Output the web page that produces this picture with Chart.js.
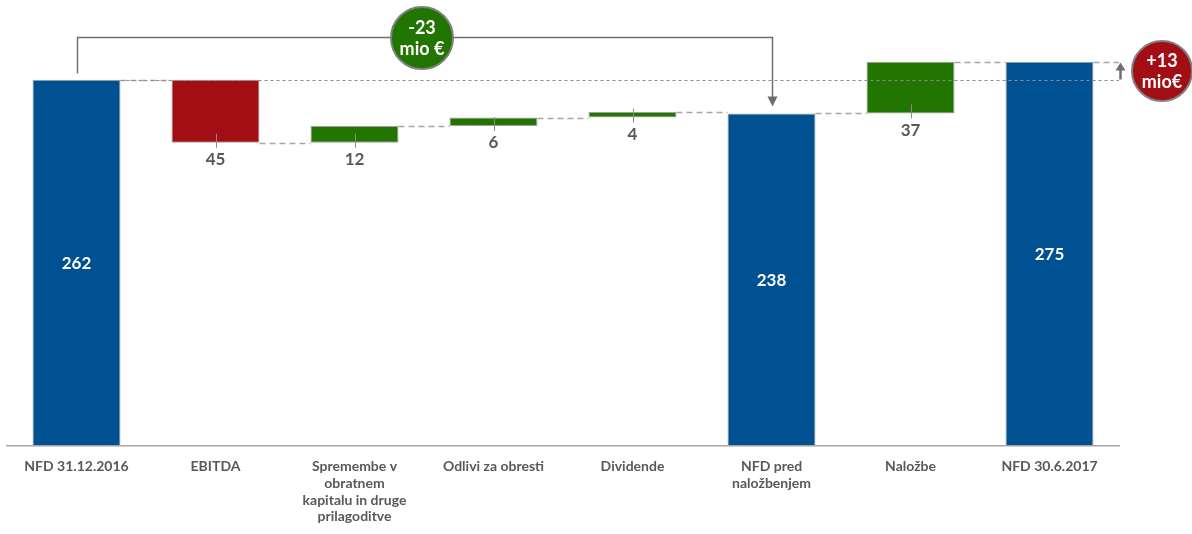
<!DOCTYPE html>
<html>
<head>
<meta charset="utf-8">
<script src="https://cdn.jsdelivr.net/npm/chart.js"></script>
<style>
  html, body { margin: 0; padding: 0; background: #fff; }
  #wrap { width: 1192px; height: 534px; position: relative; }
</style>
</head>
<body>
<div id="wrap"><canvas id="wf"></canvas></div>
<script>
// Data
const categories = [
  ['NFD 31.12.2016'],
  ['EBITDA'],
  ['Spremembe v', 'obratnem', 'kapitalu in druge', 'prilagoditve'],
  ['Odlivi za obresti'],
  ['Dividende'],
  ['NFD pred', 'naložbenjem'],
  ['Naložbe'],
  ['NFD 30.6.2017']
];
const values = [262, 45, 12, 6, 4, 238, 37, 275];
const kinds = ['total', 'down', 'up', 'up', 'up', 'total', 'up', 'total'];
const leftBadge = ['-23', 'mio €'];
const rightBadge = ['+13', 'mio€'];

const BLUE = '#005192', RED = '#a30e15', GREEN = '#217500';
const GREY = '#595959', LINE = '#a6a6a6';

// build floating ranges
let running = 0;
const ranges = values.map((v, i) => {
  if (kinds[i] === 'total') { running = v; return [0, v]; }
  const start = running;
  running = kinds[i] === 'down' ? running - v : running + v;
  return [Math.min(start, running), Math.max(start, running)];
});
const ends = values.map((v, i) => {
  if (kinds[i] === 'total') return v;
  return kinds[i] === 'down' ? ranges[i][0] : ranges[i][1];
});
const colors = kinds.map(k => k === 'total' ? BLUE : (k === 'down' ? RED : GREEN));

const FONT = 'Lato, "Open Sans", sans-serif';

function badge(ctx, cx, cy, r, fill, lines) {
  ctx.save();
  ctx.beginPath();
  ctx.arc(cx, cy, r, 0, Math.PI * 2);
  ctx.fillStyle = fill;
  ctx.fill();
  ctx.lineWidth = 2;
  ctx.strokeStyle = '#7f7f7f';
  ctx.stroke();
  ctx.fillStyle = '#fff';
  ctx.font = 'bold 18px ' + FONT;
  ctx.textAlign = 'center';
  ctx.textBaseline = 'middle';
  ctx.fillText(lines[0], cx, cy - 10);
  ctx.fillText(lines[1], cx, cy + 11);
  ctx.restore();
}

const waterfallExtras = {
  id: 'waterfallExtras',
  afterDatasetsDraw(chart) {
    const ctx = chart.ctx;
    const y = chart.scales.y;
    const bars = chart.getDatasetMeta(0).data;
    const right = chart.chartArea.right;

    ctx.save();
    // connectors between bars
    ctx.strokeStyle = LINE;
    ctx.lineWidth = 1.5;
    ctx.setLineDash([6, 4]);
    for (let i = 0; i < bars.length - 1; i++) {
      const py = Math.round(y.getPixelForValue(ends[i])) + 0.5;
      ctx.beginPath();
      ctx.moveTo(bars[i].x + bars[i].width / 2, py);
      ctx.lineTo(bars[i + 1].x - bars[i + 1].width / 2, py);
      ctx.stroke();
    }
    // final level continues to the arrow
    const last = bars[bars.length - 1];
    const pEnd = Math.round(y.getPixelForValue(values[values.length - 1])) + 0.5;
    ctx.beginPath();
    ctx.moveTo(last.x + last.width / 2, pEnd);
    ctx.lineTo(right, pEnd);
    ctx.stroke();

    // starting level reference line
    const pStart = Math.round(y.getPixelForValue(values[0])) + 0.5;
    ctx.strokeStyle = '#8c8c8c';
    ctx.lineWidth = 1;
    ctx.setLineDash([3, 3]);
    ctx.beginPath();
    ctx.moveTo(bars[0].x + bars[0].width / 2, pStart);
    ctx.lineTo(right, pStart);
    ctx.stroke();
    ctx.setLineDash([]);

    // value labels
    ctx.textAlign = 'center';
    ctx.textBaseline = 'middle';
    ctx.font = 'bold 17px ' + FONT;
    bars.forEach((b, i) => {
      if (kinds[i] === 'total') {
        ctx.fillStyle = '#fff';
        const mid = (y.getPixelForValue(ranges[i][0]) + y.getPixelForValue(ranges[i][1])) / 2;
        ctx.fillText(String(values[i]), b.x, mid + 1);
      } else {
        const bottom = y.getPixelForValue(ranges[i][0]);
        ctx.strokeStyle = '#8c8c8c';
        ctx.lineWidth = 1;
        ctx.beginPath();
        ctx.moveTo(Math.round(b.x) + 0.5, bottom - 9);
        ctx.lineTo(Math.round(b.x) + 0.5, bottom + 5);
        ctx.stroke();
        ctx.fillStyle = GREY;
        ctx.fillText(String(values[i]), b.x, bottom + 17);
      }
    });

    // bracket from first total to intermediate total
    const topY = 37.5;
    const x0 = Math.round(bars[0].x) + 0.5;
    const x5 = Math.round(bars[5].x) + 0.5;
    const tip = y.getPixelForValue(values[5]) - 7;
    ctx.strokeStyle = '#6f6f6f';
    ctx.fillStyle = '#6f6f6f';
    ctx.lineWidth = 1.5;
    ctx.beginPath();
    ctx.moveTo(x0, pStart - 7);
    ctx.lineTo(x0, topY);
    ctx.lineTo(x5, topY);
    ctx.lineTo(x5, tip - 8);
    ctx.stroke();
    ctx.beginPath();
    ctx.moveTo(x5 - 5, tip - 10);
    ctx.lineTo(x5 + 5, tip - 10);
    ctx.lineTo(x5, tip);
    ctx.closePath();
    ctx.fill();

    // up arrow between start level and end level
    const ax = right + 1.5;
    ctx.lineWidth = 2.5;
    ctx.beginPath();
    ctx.moveTo(ax, pStart - 1);
    ctx.lineTo(ax, pEnd + 6);
    ctx.stroke();
    ctx.beginPath();
    ctx.moveTo(ax - 5, pEnd + 8);
    ctx.lineTo(ax + 5, pEnd + 8);
    ctx.lineTo(ax, pEnd);
    ctx.closePath();
    ctx.fill();

    badge(ctx, 422, 38, 31, GREEN, leftBadge);
    badge(ctx, 1162, 71, 30, RED, rightBadge);
    ctx.restore();
  }
};

new Chart(document.getElementById('wf'), {
  type: 'bar',
  data: {
    labels: categories,
    datasets: [{
      data: ranges,
      backgroundColor: colors,
      borderColor: '#a0a0a0',
      borderWidth: 1,
      borderSkipped: false,
      categoryPercentage: 1,
      barPercentage: 0.633
    }]
  },
  options: {
    responsive: true,
    maintainAspectRatio: false,
    animation: false,
    layout: { padding: { left: 7, right: 73, top: 10, bottom: 0 } },
    plugins: {
      legend: { display: false },
      tooltip: { enabled: false }
    },
    scales: {
      x: {
        grid: { display: false, drawTicks: false },
        border: { display: true, color: '#a6a6a6', width: 1.5 },
        ticks: {
          color: GREY,
          font: { family: FONT, weight: 'bold', size: 14, lineHeight: 1.2 },
          padding: 12,
          maxRotation: 0,
          autoSkip: false
        },
        afterFit(scale) { scale.height = 88; }
      },
      y: {
        display: false,
        min: 0,
        max: 312
      }
    }
  },
  plugins: [waterfallExtras]
});
</script>
</body>
</html>
